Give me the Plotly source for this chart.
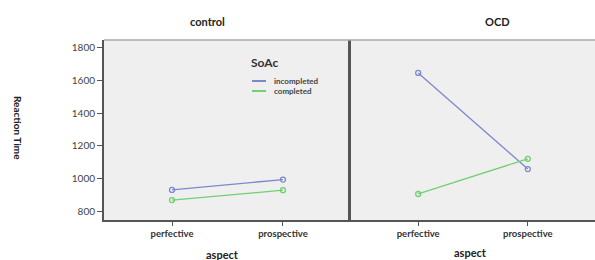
import plotly.graph_objects as go

aspects = ["perfective", "prospective"]
groups = ["control", "OCD"]
series_names = ["incompleted", "completed"]
control_incompleted = [931, 994]
control_completed = [869, 929]
ocd_incompleted = [1646, 1058]
ocd_completed = [906, 1121]
y_ticks = [800, 1000, 1200, 1400, 1600, 1800]

colors = {"incompleted": "#7d88cc", "completed": "#72cf72"}
W, H = 595, 260

def px_x(p):
    return p / W

def px_y(p):
    return 1 - p / H

fig = go.Figure()
data = {
    ("control", "incompleted"): control_incompleted,
    ("control", "completed"): control_completed,
    ("OCD", "incompleted"): ocd_incompleted,
    ("OCD", "completed"): ocd_completed,
}
for gi, g in enumerate(groups):
    for s in series_names:
        fig.add_trace(go.Scatter(
            x=[0, 1], y=data[(g, s)], mode="lines+markers",
            line=dict(color=colors[s], width=1.3),
            marker=dict(symbol="circle-open", size=5, color=colors[s], line=dict(width=1.3)),
            xaxis="x" if gi == 0 else "x2", yaxis="y" if gi == 0 else "y2",
            showlegend=False, hoverinfo="skip"))

xr = [-0.613, 1.613]
yr = [747, 1847]
ydom = [px_y(220), px_y(40)]
tickfont_x = dict(family="Lato", size=9.5, color="#333333", weight="bold")
tickfont_y = dict(family="Lato", size=10, color="#444444")
common_x = dict(range=xr, tickvals=[0, 1], ticktext=aspects, ticks="outside", ticklen=4,
                tickcolor="#555", showgrid=False, zeroline=False, showline=True,
                linecolor="#555555", linewidth=1.5, mirror=False, fixedrange=True,
                tickfont=tickfont_x)
fig.update_layout(
    width=W, height=H, margin=dict(l=0, r=0, t=0, b=0),
    paper_bgcolor="white", plot_bgcolor="#efefef",
    xaxis=dict(domain=[px_x(104), px_x(351)], anchor="y", **common_x),
    xaxis2=dict(domain=[px_x(351), 1.0], anchor="y2", **common_x),
    yaxis=dict(domain=ydom, range=yr, tickvals=y_ticks, ticks="outside", ticklen=5,
               tickcolor="#555", showgrid=False, zeroline=False, showline=True,
               linecolor="#555555", linewidth=2, tickfont=tickfont_y, anchor="x",
               fixedrange=True),
    yaxis2=dict(domain=ydom, range=yr, showticklabels=False, ticks="", showgrid=False,
                zeroline=False, showline=True, linecolor="#555555", linewidth=2.5, anchor="x2",
                fixedrange=True),
    showlegend=False,
)
# top border
fig.add_shape(type="line", xref="paper", yref="paper", x0=px_x(104), x1=1, y0=px_y(40), y1=px_y(40),
              line=dict(color="#aaaaaa", width=1.5))

def note(text, x, y, size, xanchor="center", angle=0, color="#222", bold=True):
    fig.add_annotation(text=text, x=px_x(x), y=px_y(y), xref="paper", yref="paper",
                       xanchor=xanchor, yanchor="middle", showarrow=False, textangle=angle,
                       font=dict(family="Lato", size=size, color=color,
                                 weight="bold" if bold else "normal"))

# legend (manual)
note("SoAc", 249, 62, 12, xanchor="left", color="#333")
for s, ly in zip(series_names, [81, 91]):
    fig.add_shape(type="line", xref="paper", yref="paper", x0=px_x(252), x1=px_x(266),
                  y0=px_y(ly), y1=px_y(ly), line=dict(color=colors[s], width=2))
    note(s, 272, ly, 8, xanchor="left", color="#444")

note("control", 207, 21, 11)
note("OCD", 497, 21, 11)
note("aspect", 222, 254, 11)
note("aspect", 470, 252, 11)
note("Reaction Time", 18, 128, 10, angle=90)

fig.write_html("out.html", config={"displayModeBar": False},
               post_script="document.body.style.margin='0';")
